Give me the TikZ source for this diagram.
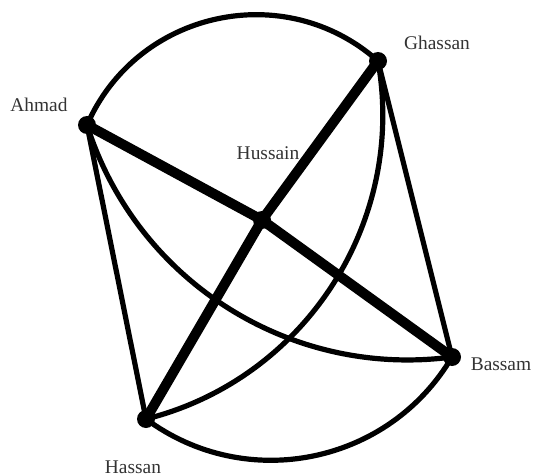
\documentclass[tikz,border=0pt]{standalone}
\usepackage{fontspec}
\setmainfont{Liberation Serif}
\usetikzlibrary{backgrounds}
\begin{document}
\begin{tikzpicture}[x=1pt,y=1pt,
  dot/.style={circle,fill=black,inner sep=0pt,minimum size=18pt},
  lbl/.style={text=black!80,font=\fontsize{19.4}{23}\selectfont,inner sep=0pt},
  lightedge/.style={line width=5.2pt},
  heavyedge/.style={line width=10pt,line cap=round}]
\useasboundingbox (0,0) rectangle (533,475);
% vertices
\node[dot] (ahmad) at (87,350) {};
\node[dot] (ghassan) at (378,414) {};
\node[dot] (hussain) at (262,255) {};
\node[dot] (bassam) at (452,118) {};
\node[dot] (hassan) at (146,56) {};
% labels
\node[lbl] (tahmad) at (39,370) {Ahmad};
\node[lbl] (tghassan) at (437,432) {Ghassan};
\node[lbl] (thussain) at (268,322) {Hussain};
\node[lbl] (tbassam) at (501,111) {Bassam};
\node[lbl,anchor=base] (thassan) at (133,2) {Hassan};
% edges
\begin{scope}[on background layer]
\draw[heavyedge] (ahmad.center) -- (hussain.center);
\draw[heavyedge] (hussain.center) -- (bassam.center);
\draw[heavyedge] (ghassan.center) -- (hussain.center);
\draw[heavyedge] (hussain.center) -- (hassan.center);
\draw[lightedge] (ahmad.center) -- (hassan.center);
\draw[lightedge] (ghassan.center) -- (bassam.center);
\draw[lightedge] (ahmad.center) to[bend left=54,looseness=1.07] (ghassan.center);
\draw[lightedge] (hassan.center) to[bend right=48,looseness=1.02] (bassam.center);
\draw[lightedge] (ahmad.center) to[bend right=40,looseness=0.965] (bassam.center);
\draw[lightedge] (ghassan.center) to[bend left=43,looseness=0.98] (hassan.center);
\end{scope}
\end{tikzpicture}
\end{document}
